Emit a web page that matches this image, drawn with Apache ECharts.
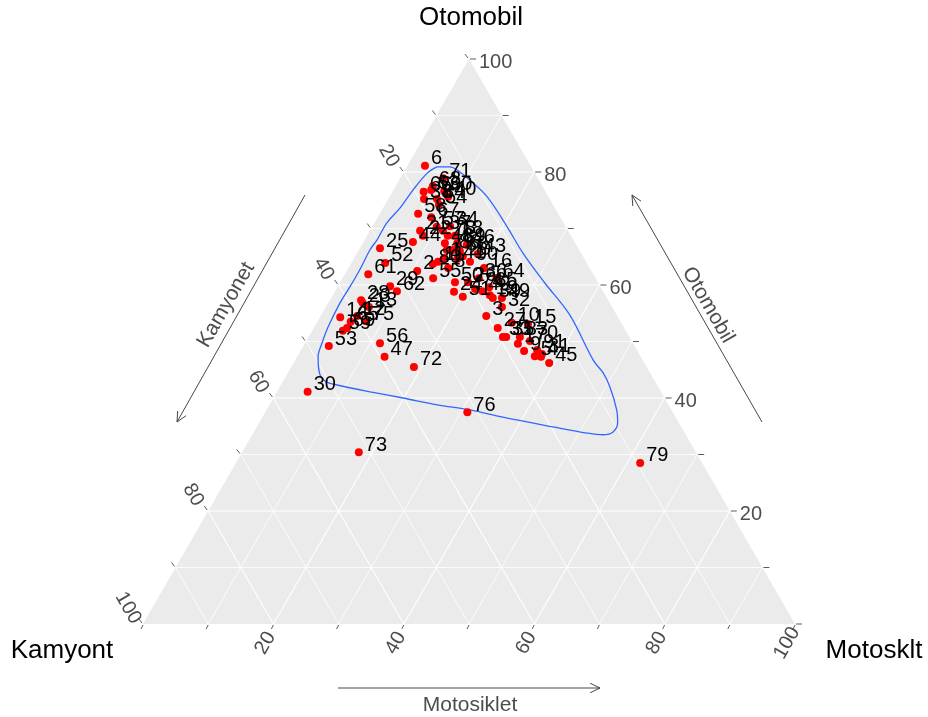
<!DOCTYPE html>
<html><head><meta charset="utf-8">
<script src="https://cdn.jsdelivr.net/npm/echarts/dist/echarts.min.js"></script>
<style>html,body{margin:0;padding:0;background:#fff}#c{width:928px;height:717px}</style>
</head><body><div id="c"></div>
<script>
// ---- data (percent) ----
const pointLabels = [6,71,66,63,60,38,84,58,67,21,44,25,52,61,29,62,57,37,78,18,48,89,46,43,7,86,88,20,41,1,11,2,80,55,90,50,26,36,64,24,51,42,19,39,49,32,3,27,10,15,33,35,17,70,9,91,31,5,4,45,28,23,13,14,12,75,65,69,59,53,56,47,72,30,73,76,79,16,22,34,54,68,40,8,74,85,83];
const otomobil = [81.1,78.9,76.5,76.8,76.6,75.2,75.2,72.6,72.0,69.6,67.6,66.5,63.9,61.9,59.8,58.9,70.3,69.6,68.7,68.7,67.4,67.4,67.1,65.5,66.2,66.2,66.0,65.1,64.6,64.8,64.1,62.5,63.7,61.2,64.1,60.5,60.5,61.2,61.2,58.8,57.9,58.9,58.2,57.7,57.7,56.1,54.5,52.4,53.3,53.1,50.8,50.8,49.6,50.1,48.3,48.5,47.8,47.4,47.3,46.2,57.3,56.8,56.1,54.3,54.5,53.6,53.5,52.4,51.9,49.2,49.7,47.3,45.5,41.1,30.4,37.5,28.5,63.0,68.7,70.4,74.2,77.5,75.6,63.0,59.3,59.6,50.8];
const kamyonet = [16.2,14.5,18.7,17.4,15.5,19.3,17.3,21.5,19.8,22.7,24.8,30.4,30.9,34.5,32.2,31.6,19.8,19.2,18.9,17.8,20.0,18.1,16.8,15.9,20.3,19.4,18.4,18.4,19.5,21.4,22.7,26.7,23.7,24.9,17.8,21.9,19.9,17.9,15.2,22.9,22.0,18.5,17.7,17.5,16.1,16.9,20.1,19.4,16.8,14.4,19.4,18.9,17.7,15.6,17.4,15.3,14.9,16.2,15.3,14.6,37.9,37.9,37.3,42.6,39.9,39.0,41.4,42.5,43.4,46.9,38.8,39.3,35.7,54.2,51.7,31.5,9.5,16.2,22.7,17.7,17.5,16.8,15.4,21.7,19.4,17.1,16.8];
const motosiklet = [2.7,6.6,4.8,5.8,7.9,5.5,7.5,5.9,8.2,7.7,7.6,3.1,5.2,3.6,8.0,9.5,9.9,11.2,12.4,13.5,12.6,14.5,16.1,18.6,13.5,14.4,15.6,16.5,15.9,13.8,13.2,10.8,12.6,13.9,18.1,17.6,19.6,20.9,23.6,18.3,20.1,22.6,24.1,24.8,26.2,27.0,25.4,28.2,29.9,32.5,29.8,30.3,32.7,34.3,34.3,36.2,37.3,36.4,37.4,39.2,4.8,5.3,6.6,3.1,5.6,7.4,5.1,5.1,4.7,3.9,11.5,13.4,18.8,4.7,17.9,31.0,62.0,20.8,8.6,11.9,8.3,5.7,9.0,15.3,21.3,23.3,32.4];

const contourOtomobil = [80.9,80.9,80.0,78.6,75.6,70.3,65.7,60.4,54.7,46.7,44.4,42.0,37.9,35.6,34.0,33.5,33.8,34.9,36.6,37.9,38.8,40.0,41.1,42.3,42.8,44.1,47.3,49.7,52.6,56.8,59.7,62.7,66.2,68.0,71.0,73.6,76.8,79.8];
const contourKamyonet = [14.5,12.5,11.4,10.6,9.4,9.0,8.9,8.2,7.2,7.6,7.2,7.4,8.4,9.4,10.9,12.7,15.0,19.7,26.5,30.9,35.5,40.1,44.6,49.1,50.4,50.8,49.5,47.7,45.3,41.4,38.4,35.4,32.1,30.1,27.1,23.8,20.2,16.5];
const contourMotosiklet = [4.6,6.6,8.6,10.8,15.0,20.7,25.4,31.4,38.1,45.7,48.4,50.6,53.7,55.0,55.1,53.8,51.2,45.4,36.9,31.2,25.7,19.9,14.3,8.6,6.8,5.1,3.2,2.6,2.1,1.8,1.9,1.9,1.7,1.9,1.9,2.6,3.0,3.7];

const gridTicks = [10,20,30,40,50,60,70,80,90];
const allTicks = [0,10,20,30,40,50,60,70,80,90,100];
const labelTicks = [20,40,60,80,100];

// ---- ternary -> cartesian ----
const S = Math.sqrt(3) / 2;
function toXY(o, k, m) {
  const t = o + k + m;
  o /= t; m /= t;
  return [m + o / 2, o * S];
}

const FONT = '"Liberation Sans", Arial, sans-serif';
const TICK_COL = '#4D4D4D';
function txt(text, x, y, size, color, rot, align) {
  const a = align || 'center';
  return {type: 'text', x, y, rotation: rot || 0,
    style: {text, fill: color, fontSize: size, fontFamily: FONT, textAlign: a, textVerticalAlign: 'middle', align: a, verticalAlign: 'middle'}};
}

function frameRender(params, api) {
  const c = p => api.coord(p);
  const ch = [];
  ch.push({type: 'polygon', shape: {points: [c([0, 0]), c([1, 0]), c([0.5, S])]}, style: {fill: '#EBEBEB'}});
  gridTicks.forEach(v => {
    const f = v / 100;
    const segs = [
      [toXY(f, 1 - f, 0), toXY(f, 0, 1 - f)],
      [toXY(0, 1 - f, f), toXY(1 - f, 0, f)],
      [toXY(0, f, 1 - f), toXY(1 - f, f, 0)]
    ];
    const w = (v % 20 === 0) ? 1.1 : 0.8;
    segs.forEach(s => {
      const a = c(s[0]), b = c(s[1]);
      ch.push({type: 'line', shape: {x1: a[0], y1: a[1], x2: b[0], y2: b[1]}, style: {stroke: '#FFFFFF', lineWidth: w}});
    });
  });
  allTicks.forEach(v => {
    const f = v / 100;
    const r = c(toXY(f, 0, 1 - f));
    ch.push({type: 'line', shape: {x1: r[0] + 1, y1: r[1], x2: r[0] + 7, y2: r[1]}, style: {stroke: '#333', lineWidth: 0.8}});
    const l = c(toXY(1 - f, f, 0));
    ch.push({type: 'line', shape: {x1: l[0] - 1, y1: l[1] - 1, x2: l[0] - 4, y2: l[1] - 5}, style: {stroke: '#333', lineWidth: 0.8}});
    const b = c(toXY(0, 1 - f, f));
    ch.push({type: 'line', shape: {x1: b[0], y1: b[1] + 1, x2: b[0] - 2, y2: b[1] + 5}, style: {stroke: '#333', lineWidth: 0.8}});
  });
  labelTicks.forEach(v => {
    const f = v / 100;
    const r = c(toXY(f, 0, 1 - f));
    ch.push(txt(String(v), r[0] + 10, r[1] + 3, 20, TICK_COL, 0, 'left'));
    const l = c(toXY(1 - f, f, 0));
    ch.push(txt(String(v), l[0] - 15, l[1] - 16, 20, TICK_COL, -Math.PI / 3));
    const b = c(toXY(0, 1 - f, f));
    ch.push(txt(String(v), b[0] - 8, b[1] + 19, 20, TICK_COL, Math.PI / 3));
  });
  return {type: 'group', children: ch};
}

const pointData = otomobil.map((o, i) => ({value: toXY(o, kamyonet[i], motosiklet[i]), name: String(pointLabels[i])}));
const contourData = contourOtomobil.map((o, i) => toXY(o, contourKamyonet[i], contourMotosiklet[i]));
contourData.push(contourData[0]);

function arrow(x1, y1, x2, y2) {
  const dx = x2 - x1, dy = y2 - y1, L = Math.hypot(dx, dy);
  const ux = dx / L, uy = dy / L, h = 11, a = 0.45;
  const p1 = [x2 - h * (ux * Math.cos(a) - uy * Math.sin(a)), y2 - h * (uy * Math.cos(a) + ux * Math.sin(a))];
  const p2 = [x2 - h * (ux * Math.cos(a) + uy * Math.sin(a)), y2 - h * (uy * Math.cos(a) - ux * Math.sin(a))];
  return [
    {type: 'line', shape: {x1, y1, x2, y2}, style: {stroke: '#333', lineWidth: 0.9}},
    {type: 'polyline', shape: {points: [p1, [x2, y2], p2]}, style: {stroke: '#333', lineWidth: 0.9, fill: null}}
  ];
}

const chart = echarts.init(document.getElementById('c'));
chart.setOption({
  animation: false,
  backgroundColor: '#FFFFFF',
  grid: {left: 143, right: 133, top: 59, bottom: 93},
  xAxis: {type: 'value', min: 0, max: 1, show: false},
  yAxis: {type: 'value', min: 0, max: S, show: false},
  graphic: [
    txt('Otomobil', 471, 18, 26, '#000'),
    txt('Kamyont', 62, 651, 26, '#000'),
    txt('Motosklt', 874, 651, 26, '#000'),
    txt('Kamyonet', 226, 305, 21, TICK_COL, Math.PI / 3),
    txt('Otomobil', 708, 305, 21, TICK_COL, -Math.PI / 3),
    txt('Motosiklet', 470, 705, 21, TICK_COL),
    ...arrow(305, 195, 177, 422),
    ...arrow(762, 422, 632, 195),
    ...arrow(338, 688, 600, 688)
  ],
  series: [
    {type: 'custom', data: [0], renderItem: frameRender, silent: true, z: 1, clip: false},
    {type: 'line', data: contourData, showSymbol: false, symbol: 'none', smooth: 0.35, lineStyle: {color: '#3366FF', width: 1.3}, silent: true, z: 2},
    {type: 'scatter', data: pointData, symbolSize: 8, itemStyle: {color: '#FF0000', opacity: 1}, silent: true, z: 3,
      label: {show: true, formatter: '{b}', position: 'right', distance: 2, offset: [0, -7], color: '#000', fontSize: 20, fontFamily: FONT}}
  ]
});
</script>
</body></html>
